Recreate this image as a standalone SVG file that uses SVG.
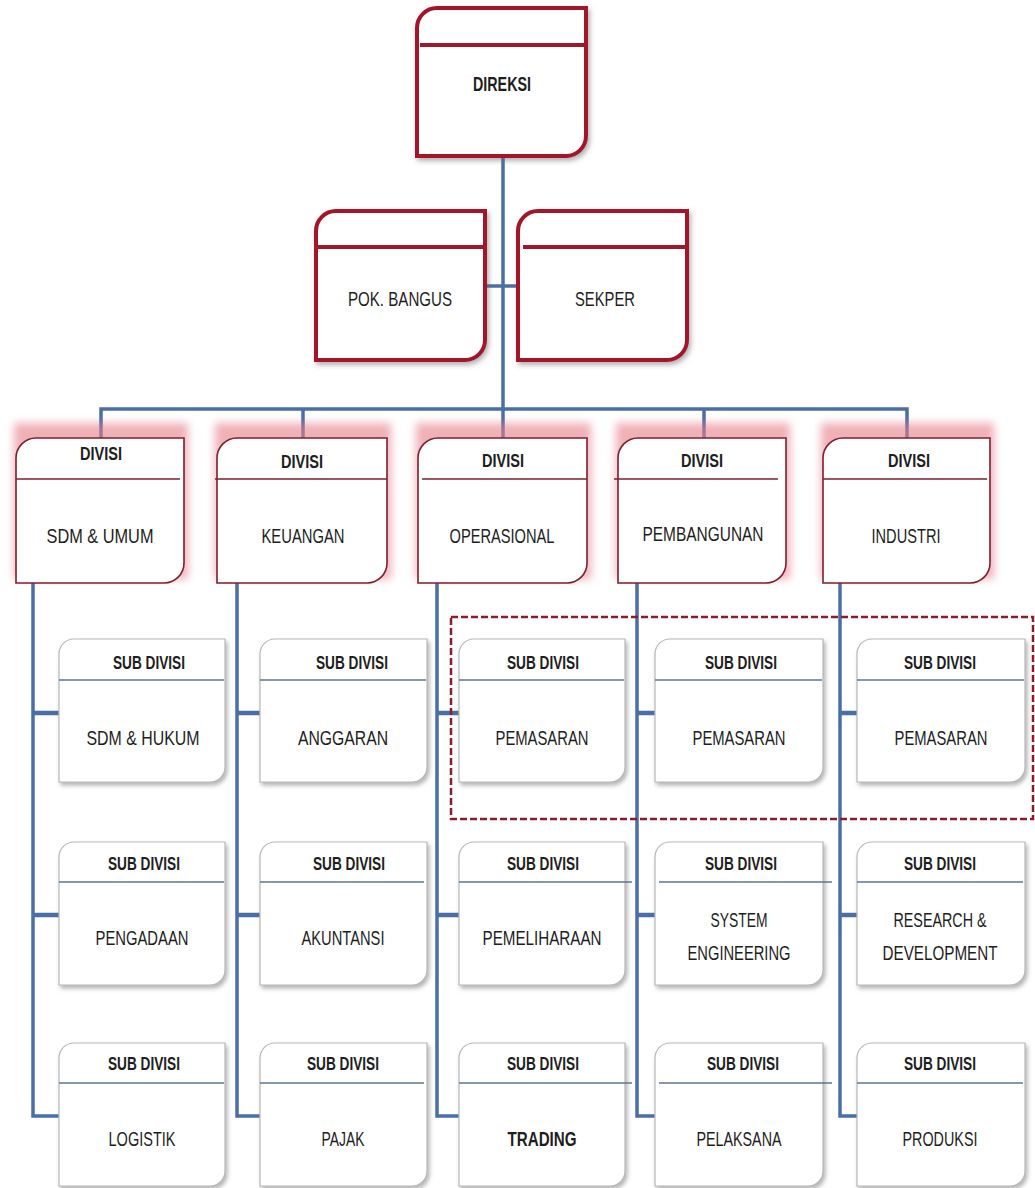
<svg xmlns="http://www.w3.org/2000/svg" width="1035" height="1188" viewBox="0 0 1035 1188">
<defs>
<filter id="glow" x="-20%" y="-30%" width="140%" height="160%"><feGaussianBlur stdDeviation="4"/></filter>
<filter id="shadow" x="-10%" y="-10%" width="125%" height="130%"><feDropShadow dx="2" dy="3" stdDeviation="2" flood-color="#777" flood-opacity="0.55"/></filter>
<filter id="shadow2" x="-10%" y="-10%" width="125%" height="130%"><feDropShadow dx="2" dy="3" stdDeviation="2.5" flood-color="#666" flood-opacity="0.5"/></filter>
</defs>
<style>
.top{fill:#fff;stroke:#a3172b;stroke-width:4;filter:url(#shadow2)}
.topline{stroke:#a3172b;stroke-width:4}
.div{fill:#fff;stroke:#7e1f2e;stroke-width:1.6}
.divline{stroke:#7e1f2e;stroke-width:1.6}
.gl{fill:#e57b87;opacity:0.6;filter:url(#glow)}
.sub{fill:#fff;stroke:#b8b8b8;stroke-width:1.2;filter:url(#shadow)}
.subline{stroke:#5c7690;stroke-width:1.4}
.con{fill:none;stroke:#4a6ea6;stroke-width:3.5}
.stub{fill:none;stroke:#4a6ea6;stroke-width:4.5}
.dash{fill:none;stroke:#8c1c2c;stroke-width:2.5;stroke-dasharray:7,3}
text{font-family:"Liberation Sans",Arial,sans-serif;fill:#1e1e1e;text-anchor:middle}
.b{font-weight:bold}
.t{font-size:21px}
.h{font-size:18px;font-weight:bold}
</style>
<rect width="1035" height="1188" fill="#fff"/>

<g id="connectors">
<path class="con" d="M503,156 V409"/>
<path class="con" d="M485,286 H518"/>
<path class="con" d="M101,438 V409 H907 V438"/>
<path class="con" d="M303,409 V438"/>
<path class="con" d="M503,409 V438"/>
<path class="con" d="M704,409 V438"/>
<path class="con" d="M33,583 V1116 H59"/>
<path class="con" d="M237,583 V1116 H260"/>
<path class="con" d="M437,583 V1116 H459"/>
<path class="con" d="M637,583 V1116 H655"/>
<path class="con" d="M840,583 V1116 H857"/>
<path class="stub" d="M33,713 H59 M33,915 H59"/>
<path class="stub" d="M237,713 H260 M237,915 H260"/>
<path class="stub" d="M437,713 H459 M437,915 H459"/>
<path class="stub" d="M637,713 H655 M637,915 H655"/>
<path class="stub" d="M840,713 H857 M840,915 H857"/>
</g>

<g id="direksi">
<path class="top" d="M417,28 A20,20 0 0 1 437,8 H586 V136 A20,20 0 0 1 566,156 H417 Z"/>
<path class="topline" d="M420,45 H586"/>
<text class="t b" x="502" y="91" textLength="58" lengthAdjust="spacingAndGlyphs">DIREKSI</text>
</g>
<g id="pok-bangus">
<path class="top" d="M316,231 A20,20 0 0 1 336,211 H485 V340 A20,20 0 0 1 465,360 H316 Z"/>
<path class="topline" d="M316,247 H485"/>
<text class="t" x="400" y="306" textLength="104" lengthAdjust="spacingAndGlyphs">POK. BANGUS</text>
</g>
<g id="sekper">
<path class="top" d="M518,231 A20,20 0 0 1 538,211 H687 V340 A20,20 0 0 1 667,360 H518 Z"/>
<path class="topline" d="M523,247 H687"/>
<text class="t" x="605" y="306" textLength="60" lengthAdjust="spacingAndGlyphs">SEKPER</text>
</g>

<g id="divisi-sdm">
<rect class="gl" x="14" y="423" width="174" height="156"/>
<path class="div" d="M16,458 A20,20 0 0 1 36,438 H184 V563 A20,20 0 0 1 164,583 H16 Z"/>
<path class="divline" d="M16,479 H180"/>
<text class="h" x="101" y="460" textLength="42" lengthAdjust="spacingAndGlyphs">DIVISI</text>
<text class="t" x="100" y="543" textLength="107" lengthAdjust="spacingAndGlyphs">SDM &amp; UMUM</text>
</g>
<g id="divisi-keuangan">
<rect class="gl" x="215" y="423" width="176" height="156"/>
<path class="div" d="M217,458 A20,20 0 0 1 237,438 H387 V563 A20,20 0 0 1 367,583 H217 Z"/>
<path class="divline" d="M215,479 H387"/>
<text class="h" x="302" y="468" textLength="42" lengthAdjust="spacingAndGlyphs">DIVISI</text>
<text class="t" x="303" y="543" textLength="83" lengthAdjust="spacingAndGlyphs">KEUANGAN</text>
</g>
<g id="divisi-operasional">
<rect class="gl" x="416" y="423" width="175" height="156"/>
<path class="div" d="M418,458 A20,20 0 0 1 438,438 H587 V563 A20,20 0 0 1 567,583 H418 Z"/>
<path class="divline" d="M422,479 H587"/>
<text class="h" x="503" y="467" textLength="42" lengthAdjust="spacingAndGlyphs">DIVISI</text>
<text class="t" x="502" y="543" textLength="105" lengthAdjust="spacingAndGlyphs">OPERASIONAL</text>
</g>
<g id="divisi-pembangunan">
<rect class="gl" x="616" y="423" width="174" height="156"/>
<path class="div" d="M618,458 A20,20 0 0 1 638,438 H786 V563 A20,20 0 0 1 766,583 H618 Z"/>
<path class="divline" d="M614,479 H778"/>
<text class="h" x="702" y="467" textLength="42" lengthAdjust="spacingAndGlyphs">DIVISI</text>
<text class="t" x="703" y="541" textLength="121" lengthAdjust="spacingAndGlyphs">PEMBANGUNAN</text>
</g>
<g id="divisi-industri">
<rect class="gl" x="821" y="423" width="173" height="156"/>
<path class="div" d="M823,458 A20,20 0 0 1 843,438 H990 V563 A20,20 0 0 1 970,583 H823 Z"/>
<path class="divline" d="M823,479 H987"/>
<text class="h" x="909" y="467" textLength="42" lengthAdjust="spacingAndGlyphs">DIVISI</text>
<text class="t" x="906" y="543" textLength="69" lengthAdjust="spacingAndGlyphs">INDUSTRI</text>
</g>

<g id="sub-sdm-hukum">
<path class="sub" d="M59,654 A15,15 0 0 1 74,639 H225 V767 A15,15 0 0 1 210,782 H59 Z"/>
<path class="subline" d="M59,680 H224"/>
<text class="h" x="149" y="669" textLength="72" lengthAdjust="spacingAndGlyphs">SUB DIVISI</text>
<text class="t" x="143" y="745" textLength="113" lengthAdjust="spacingAndGlyphs">SDM  &amp; HUKUM</text>
</g>
<g id="sub-anggaran">
<path class="sub" d="M260,654 A15,15 0 0 1 275,639 H427 V767 A15,15 0 0 1 412,782 H260 Z"/>
<path class="subline" d="M260,680 H426"/>
<text class="h" x="352" y="669" textLength="72" lengthAdjust="spacingAndGlyphs">SUB DIVISI</text>
<text class="t" x="343" y="745" textLength="90" lengthAdjust="spacingAndGlyphs">ANGGARAN</text>
</g>
<g id="sub-pemasaran-ops">
<path class="sub" d="M459,654 A15,15 0 0 1 474,639 H625 V767 A15,15 0 0 1 610,782 H459 Z"/>
<path class="subline" d="M459,680 H624"/>
<text class="h" x="543" y="669" textLength="72" lengthAdjust="spacingAndGlyphs">SUB DIVISI</text>
<text class="t" x="542" y="745" textLength="93" lengthAdjust="spacingAndGlyphs">PEMASARAN</text>
</g>
<g id="sub-pemasaran-pembangunan">
<path class="sub" d="M655,654 A15,15 0 0 1 670,639 H823 V767 A15,15 0 0 1 808,782 H655 Z"/>
<path class="subline" d="M655,680 H822"/>
<text class="h" x="741" y="669" textLength="72" lengthAdjust="spacingAndGlyphs">SUB DIVISI</text>
<text class="t" x="739" y="745" textLength="93" lengthAdjust="spacingAndGlyphs">PEMASARAN</text>
</g>
<g id="sub-pemasaran-industri">
<path class="sub" d="M857,654 A15,15 0 0 1 872,639 H1025 V767 A15,15 0 0 1 1010,782 H857 Z"/>
<path class="subline" d="M857,680 H1024"/>
<text class="h" x="940" y="669" textLength="72" lengthAdjust="spacingAndGlyphs">SUB DIVISI</text>
<text class="t" x="941" y="745" textLength="93" lengthAdjust="spacingAndGlyphs">PEMASARAN</text>
</g>

<g id="sub-pengadaan">
<path class="sub" d="M59,857 A15,15 0 0 1 74,842 H225 V970 A15,15 0 0 1 210,985 H59 Z"/>
<path class="subline" d="M59,882 H224"/>
<text class="h" x="144" y="870" textLength="72" lengthAdjust="spacingAndGlyphs">SUB DIVISI</text>
<text class="t" x="142" y="945" textLength="93" lengthAdjust="spacingAndGlyphs">PENGADAAN</text>
</g>
<g id="sub-akuntansi">
<path class="sub" d="M260,857 A15,15 0 0 1 275,842 H427 V970 A15,15 0 0 1 412,985 H260 Z"/>
<path class="subline" d="M260,882 H424"/>
<text class="h" x="349" y="870" textLength="72" lengthAdjust="spacingAndGlyphs">SUB DIVISI</text>
<text class="t" x="343" y="945" textLength="83" lengthAdjust="spacingAndGlyphs">AKUNTANSI</text>
</g>
<g id="sub-pemeliharaan">
<path class="sub" d="M459,857 A15,15 0 0 1 474,842 H625 V970 A15,15 0 0 1 610,985 H459 Z"/>
<path class="subline" d="M459,882 H632"/>
<text class="h" x="543" y="870" textLength="72" lengthAdjust="spacingAndGlyphs">SUB DIVISI</text>
<text class="t" x="542" y="945" textLength="119" lengthAdjust="spacingAndGlyphs">PEMELIHARAAN</text>
</g>
<g id="sub-system-engineering">
<path class="sub" d="M655,857 A15,15 0 0 1 670,842 H823 V970 A15,15 0 0 1 808,985 H655 Z"/>
<path class="subline" d="M659,882 H832"/>
<text class="h" x="741" y="870" textLength="72" lengthAdjust="spacingAndGlyphs">SUB DIVISI</text>
<text class="t" x="739" y="927" textLength="57" lengthAdjust="spacingAndGlyphs">SYSTEM</text>
<text class="t" x="739" y="960" textLength="103" lengthAdjust="spacingAndGlyphs">ENGINEERING</text>
</g>
<g id="sub-research-development">
<path class="sub" d="M857,857 A15,15 0 0 1 872,842 H1025 V970 A15,15 0 0 1 1010,985 H857 Z"/>
<path class="subline" d="M857,882 H1023"/>
<text class="h" x="940" y="870" textLength="72" lengthAdjust="spacingAndGlyphs">SUB DIVISI</text>
<text class="t" x="940" y="927" textLength="93" lengthAdjust="spacingAndGlyphs">RESEARCH &amp;</text>
<text class="t" x="940" y="960" textLength="115" lengthAdjust="spacingAndGlyphs">DEVELOPMENT</text>
</g>

<g id="sub-logistik">
<path class="sub" d="M59,1058 A15,15 0 0 1 74,1043 H225 V1171 A15,15 0 0 1 210,1186 H59 Z"/>
<path class="subline" d="M59,1083 H224"/>
<text class="h" x="144" y="1070" textLength="72" lengthAdjust="spacingAndGlyphs">SUB DIVISI</text>
<text class="t" x="142" y="1146" textLength="67" lengthAdjust="spacingAndGlyphs">LOGISTIK</text>
</g>
<g id="sub-pajak">
<path class="sub" d="M260,1058 A15,15 0 0 1 275,1043 H427 V1171 A15,15 0 0 1 412,1186 H260 Z"/>
<path class="subline" d="M260,1083 H424"/>
<text class="h" x="343" y="1070" textLength="72" lengthAdjust="spacingAndGlyphs">SUB DIVISI</text>
<text class="t" x="343" y="1146" textLength="43" lengthAdjust="spacingAndGlyphs">PAJAK</text>
</g>
<g id="sub-trading">
<path class="sub" d="M459,1058 A15,15 0 0 1 474,1043 H625 V1171 A15,15 0 0 1 610,1186 H459 Z"/>
<path class="subline" d="M459,1083 H632"/>
<text class="h" x="543" y="1070" textLength="72" lengthAdjust="spacingAndGlyphs">SUB DIVISI</text>
<text class="t b" x="542" y="1146" textLength="69" lengthAdjust="spacingAndGlyphs">TRADING</text>
</g>
<g id="sub-pelaksana">
<path class="sub" d="M655,1058 A15,15 0 0 1 670,1043 H823 V1171 A15,15 0 0 1 808,1186 H655 Z"/>
<path class="subline" d="M659,1083 H832"/>
<text class="h" x="743" y="1070" textLength="72" lengthAdjust="spacingAndGlyphs">SUB DIVISI</text>
<text class="t" x="739" y="1146" textLength="85" lengthAdjust="spacingAndGlyphs">PELAKSANA</text>
</g>
<g id="sub-produksi">
<path class="sub" d="M857,1058 A15,15 0 0 1 872,1043 H1025 V1171 A15,15 0 0 1 1010,1186 H857 Z"/>
<path class="subline" d="M857,1083 H1023"/>
<text class="h" x="940" y="1070" textLength="72" lengthAdjust="spacingAndGlyphs">SUB DIVISI</text>
<text class="t" x="940" y="1146" textLength="75" lengthAdjust="spacingAndGlyphs">PRODUKSI</text>
</g>

<rect class="dash" x="451" y="617" width="582" height="202"/>
</svg>
